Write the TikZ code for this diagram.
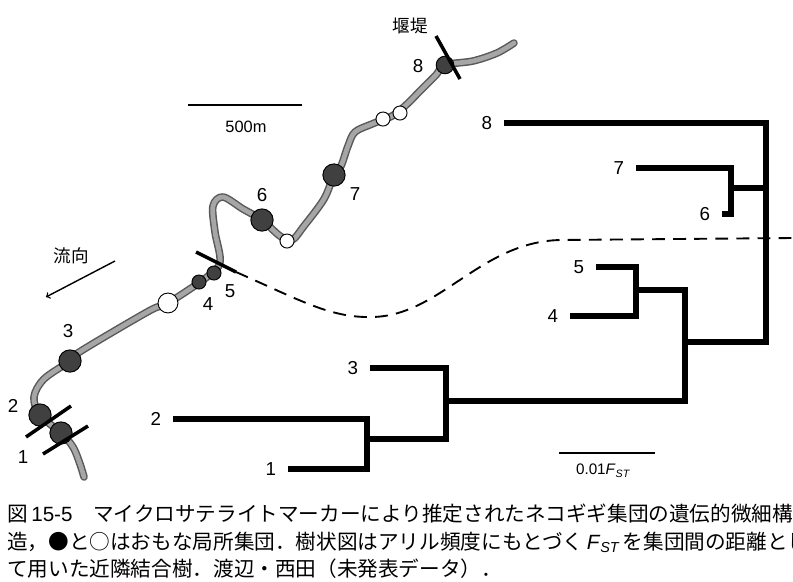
\documentclass[tikz,border=0pt]{standalone}
\usepackage{fontspec}
\setmainfont{Liberation Sans}
\newfontfamily\jp{Noto Sans CJK JP}
\usetikzlibrary{positioning}

\begin{document}
\begin{tikzpicture}[x=0.3mm, y=-0.3mm,
    river/.style={draw=black!35, line width=4pt, line cap=round, line join=round,
      preaction={draw=black!65, line width=6.5pt, line cap=round, line join=round}},
    pop/.style={circle, draw, thick, fill=black!75, inner sep=0pt, minimum size=19pt},
    popsmall/.style={pop, minimum size=12pt},
    popw/.style={circle, draw, thick, fill=white, inner sep=0pt, minimum size=12pt},
    dam/.style={line width=3pt},
    branch/.style={line width=5.5pt, line join=miter},
    scalebar/.style={line width=2.5pt},
    boundary/.style={line width=1.6pt, dash pattern=on 11pt off 7pt},
    lab/.style={font=\fontsize{16}{19}\selectfont, inner sep=1pt},
    jlab/.style={font=\jp\fontsize{15}{18}\selectfont, inner sep=0pt}]
  \useasboundingbox (0,0) rectangle (793,581);

  % river from the dam down to site 1
  \draw[river] plot[smooth, tension=0.55] coordinates {
    (514,43) (497,53) (473,61) (445,65) (436,75) (422,89) (405,106) (392,116)
    (372,124) (355,132) (348,146) (341,166) (334,175) (324,199) (304,226)
    (292,240) (280,236) (262,220) (243,209) (223,197) (213,206) (215,232)
    (220,262) (207,277) (168,303) (149,311) (81,351) (70,361) (44,379)
    (34,397) (40,415) (61,433) (73,447) (80,464) (84,477)};

  % sites
  \node[pop, minimum size=15pt] (r8) at (445,65) {};
  \node[popw] (w8a) at (400,113) {};
  \node[popw] (w8b) at (383,119) {};
  \node[pop] (r7) at (334,175) {};
  \node[pop] (r6) at (262,220) {};
  \node[popw] (w6) at (287,241) {};
  \node[popsmall] (r5) at (214,273) {};
  \node[popsmall] (r4) at (199,282) {};
  \node[popw, minimum size=17pt] (w4) at (168,303) {};
  \node[pop] (r3) at (70,361) {};
  \node[pop] (r2) at (40,415) {};
  \node[pop] (r1) at (61,433) {};

  \node[lab] (rl8) at (418,66) {8};
  \node[lab] (rl7) at (355,194) {7};
  \node[lab] (rl6) at (262,195) {6};
  \node[lab] (rl5) at (230,291) {5};
  \node[lab] (rl4) at (208,304) {4};
  \node[lab] (rl3) at (68,331) {3};
  \node[lab] (rl2) at (13,406) {2};
  \node[lab] (rl1) at (23,457) {1};

  % dams
  \coordinate (d8a) at (436,36);
  \coordinate (d8b) at (460,79);
  \coordinate (d5a) at (196,252);
  \coordinate (d5b) at (236,272);
  \coordinate (d2a) at (26,437);
  \coordinate (d2b) at (71,406);
  \coordinate (d1a) at (43,454);
  \coordinate (d1b) at (88,426);
  \draw[dam] (d8a) -- (d8b);
  \draw[dam] (d5a) -- (d5b);
  \draw[dam] (d2a) -- (d2b);
  \draw[dam] (d1a) -- (d1b);
  \node[jlab] (weir) at (410,26) {堰堤};

  % flow direction
  \node[jlab] (flow) at (71,256) {流向};
  \coordinate (flowA) at (115,261);
  \coordinate (flowB) at (46,297);
  \draw[->, line width=1.2pt] (flowA) -- (flowB);

  % map scale
  \coordinate (ms1) at (188,105);
  \coordinate (ms2) at (302,105);
  \draw[scalebar] (ms1) -- (ms2);
  \node[lab, font=\fontsize{14}{17}\selectfont] (msl) at (246,127) {500m};

  % dashed split
  \coordinate (dip) at (372,317);
  \coordinate (rise) at (560,240);
  \coordinate (edge) at (793,238);
  \draw[boundary] (d5b) .. controls (300,300) and (330,318) .. (dip)
    .. controls (440,316) and (480,242) .. (rise) -- (edge);

  % NJ tree
  \coordinate (t8) at (504,123);
  \coordinate (t7) at (636,168);
  \coordinate (t6) at (722,214);
  \coordinate (t5) at (596,267);
  \coordinate (t4) at (570,316);
  \coordinate (t3) at (370,368);
  \coordinate (t2) at (173,419);
  \coordinate (t1) at (288,469);
  \coordinate (a12) at (367,439);
  \coordinate (a123) at (446,401);
  \coordinate (a45) at (636,290);
  \coordinate (a67) at (731,188);
  \coordinate (b) at (685,342);
  \coordinate (root) at (766,188);

  \draw[branch] (t2) -| (a12) |- (t1);
  \draw[branch] (t3) -| (a123) |- (a12);
  \draw[branch] (t5) -| (a45) |- (t4);
  \draw[branch] (t7) -| (a67) |- (t6);
  \draw[branch] (a45) -| (b) |- (a123);
  \draw[branch] (t8) -| (root) |- (b);
  \draw[branch] (a67) -- (root);

  \foreach \i in {1,...,8}
    \node[lab, left=9pt of t\i] (l\i) {\i};

  % tree scale
  \coordinate (ts1) at (559,453);
  \coordinate (ts2) at (655,453);
  \draw[scalebar] (ts1) -- (ts2);
  \node[lab, font=\fontsize{13}{16}\selectfont] (tsl) at (603,471)
    {0.01\textit{F}\textsubscript{\itshape ST}};

  % caption
  \node[anchor=north west, align=left, inner sep=0pt,
    font=\jp\fontsize{17.6}{23.5}\selectfont] (cap) at (7,504)
    {図{\rmfamily\,15-5}\quad マイクロサテライトマーカーにより推定されたネコギギ集団の遺伝的微細構\\
     造，●と○はおもな局所集団．樹状図はアリル頻度にもとづく{\rmfamily\,\textit{F}\textsubscript{\itshape ST}\,}を集団間の距離とし\\
     て用いた近隣結合樹．渡辺・西田（未発表データ）．};
\end{tikzpicture}
\end{document}
